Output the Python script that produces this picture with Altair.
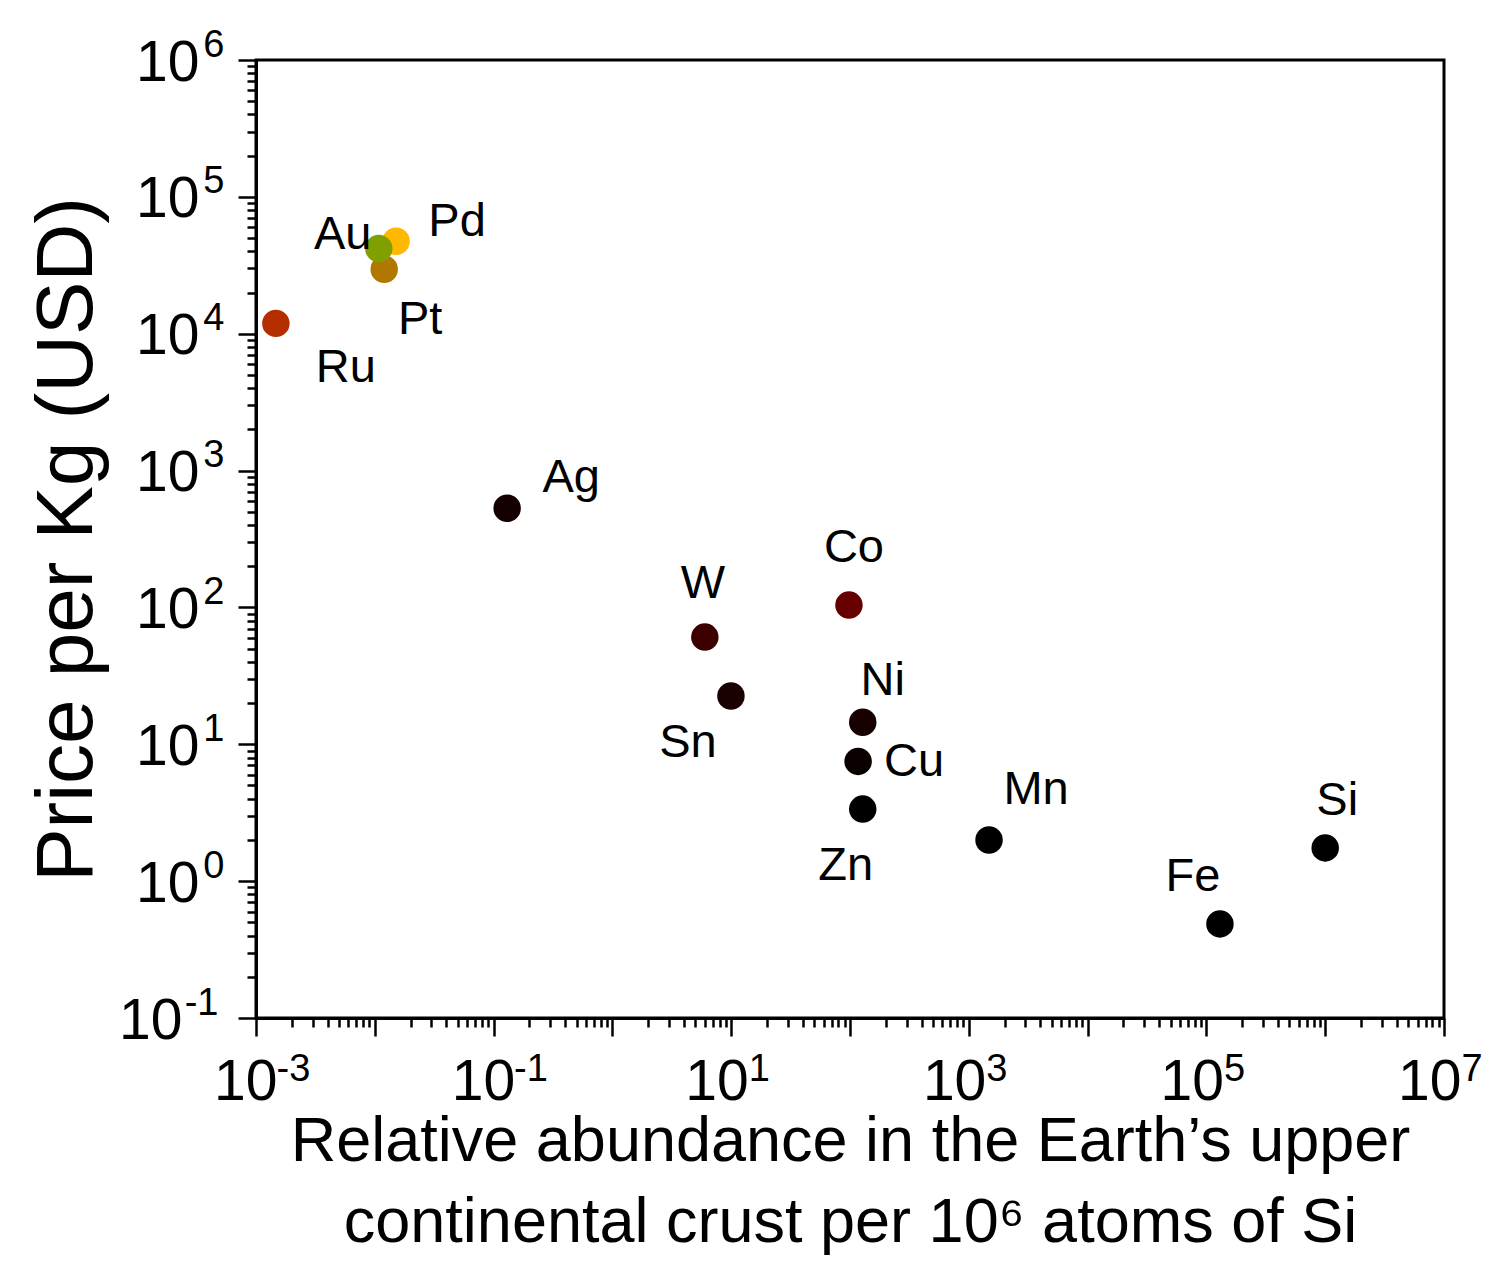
import altair as alt
import pandas as pd

# ---- data ----
elements = ["Ru", "Pt", "Pd", "Au", "Ag", "W", "Sn", "Co", "Ni", "Cu", "Zn", "Mn", "Fe", "Si"]
abundance = [1.47e-3, 0.0120, 0.0151, 0.0108, 0.130, 6.0, 9.95, 98, 128, 117, 128, 1480, 1.3e5, 1.0e6]
price = [1.19e4, 2.96e4, 4.74e4, 4.2e4, 531, 60.7, 22.5, 104, 14.5, 7.5, 3.36, 2.0, 0.487, 1.75]
colors = ["#b52e00", "#b07800", "#ffb800", "#80a000", "#140000", "#3d0000", "#1a0000",
          "#660000", "#160000", "#0a0000", "#000000", "#000000", "#000000", "#000000"]

# label offsets (pixels) relative to each point
label_dx = [70, 36, 61, -36, 64, -2, -43, 5, 20, 56, -17, 47, -27, 12]
label_dy = [45, 51, -19, -13, -30, -53, 47, -57, -41, 1, 57, -50, -47, -47]

# tick labels: base "10" and its exponent (drawn as a superscript)
x_major_exp = list(range(-3, 8))
x_base_labels = ["10", "", "10", "", "10", "", "10", "", "10", "", "10"]
x_exp_labels = ["-3", "", "-1", "", "1", "", "3", "", "5", "", "7"]
y_major_exp = list(range(-1, 7))
y_base_labels = ["10", "10", "10", "10", "10", "10", "10", "10"]
y_exp_labels = ["-1", "0", "1", "2", "3", "4", "5", "6"]

x_title = ["Relative abundance in the Earth’s upper", "continental crust per 10⁶ atoms of Si"]
y_title = "Price per Kg (USD)"

FONT = "Liberation Sans"
BASE_FS = 57
EXP_FS = 38

df = pd.DataFrame({"element": elements, "abundance": abundance, "price": price})


def tick_values(exps):
    vals = []
    for e in exps[:-1]:
        for m in range(1, 10):
            vals.append(float(f"{m}e{e}"))
    vals.append(float(f"1e{exps[-1]}"))
    return vals


def major_values(exps):
    return [float(f"1e{e}") for e in exps]


x_ticks = tick_values(x_major_exp)
y_ticks = tick_values(y_major_exp)

exp_expr = "log(datum.value)/LN10"
is_major = f"abs({exp_expr} - round({exp_expr})) < 1e-6"


def label_expr(labels, first_exp):
    arr = "[" + ",".join(f"'{s}'" for s in labels) + "]"
    return f"({is_major}) ? {arr}[round({exp_expr}) - ({first_exp})] : ''"


def cond(test, a, b):
    return {"condition": {"test": test, "value": a}, "value": b}


tick_size = cond(is_major, 18, 9)
neg = "datum.value < 1"

common = dict(grid=False, labelFlush=False, labelOverlap=False, labelColor="black",
              labelFont=FONT)

# main axes: ticks, "10" labels and titles
x_axis = alt.Axis(
    orient="bottom", values=x_ticks, tickSize=tick_size, tickWidth=2.5, tickColor="black",
    domainWidth=3, domainColor="black",
    labelExpr=label_expr(x_base_labels, x_major_exp[0]),
    labelFontSize=BASE_FS, labelAlign="right", labelBaseline="top",
    labelOffset=cond(neg, 21, 17), labelPadding=18,
    title=x_title, titleFont=FONT, titleFontSize=63, titleFontWeight="normal",
    titleColor="black", titlePadding=0, titleLineHeight=81, **common,
)
y_axis = alt.Axis(
    orient="left", values=y_ticks, tickSize=tick_size, tickWidth=2.5, tickColor="black",
    domainWidth=3, domainColor="black",
    labelExpr=label_expr(y_base_labels, y_major_exp[0]),
    labelFontSize=BASE_FS, labelAlign="right", labelBaseline="middle",
    labelPadding=cond(neg, 56, 39), labelOffset=3,
    title=y_title, titleFont=FONT, titleFontSize=80, titleFontWeight="normal",
    titleColor="black", titlePadding=10, **common,
)

# exponent axes: only superscript labels
x_exp_axis = alt.Axis(
    orient="bottom", values=major_values(x_major_exp), ticks=False, domain=False,
    labelExpr=label_expr(x_exp_labels, x_major_exp[0]),
    labelFontSize=EXP_FS, labelAlign="left", labelBaseline="top",
    labelOffset=cond(neg, 20, 17), labelPadding=32, title=None, **common,
)
y_exp_axis = alt.Axis(
    orient="left", values=major_values(y_major_exp), ticks=False, domain=False,
    labelExpr=label_expr(y_exp_labels, y_major_exp[0]),
    labelFontSize=EXP_FS, labelAlign="right", labelBaseline="middle",
    labelPadding=cond(neg, 38, 32), labelOffset=-15, title=None, **common,
)

xs = alt.Scale(type="log", domain=[1e-3, 1e7], nice=False)
ys = alt.Scale(type="log", domain=[1e-1, 1e6], nice=False)

base = alt.Chart(df)

points = base.mark_circle(size=755, opacity=1).encode(
    x=alt.X("abundance:Q", scale=xs, axis=x_axis),
    y=alt.Y("price:Q", scale=ys, axis=y_axis),
    color=alt.Color("element:N", scale=alt.Scale(domain=elements, range=colors), legend=None),
)

exp_layer = base.mark_circle(size=1, opacity=0).encode(
    x=alt.X("abundance:Q", scale=xs, axis=x_exp_axis),
    y=alt.Y("price:Q", scale=ys, axis=y_exp_axis),
)

labels = []
for name, dx, dy in zip(elements, label_dx, label_dy):
    labels.append(
        base.transform_filter(alt.datum.element == name)
        .mark_text(dx=dx, dy=dy, align="center", baseline="middle",
                   font=FONT, fontSize=47, color="black")
        .encode(x=alt.X("abundance:Q", scale=xs, axis=None),
                y=alt.Y("price:Q", scale=ys, axis=None),
                text="element:N")
    )

chart = alt.layer(points, exp_layer, *labels).resolve_axis(
    x="independent", y="independent"
).properties(
    width=1188, height=958,
    autosize=alt.AutoSizeParams(type="none"),
    padding={"left": 248, "top": 52, "right": 38, "bottom": 237},
).configure_view(stroke="black", strokeWidth=3)

chart.save("out.html", embed_options={"renderer": "svg", "actions": False})
